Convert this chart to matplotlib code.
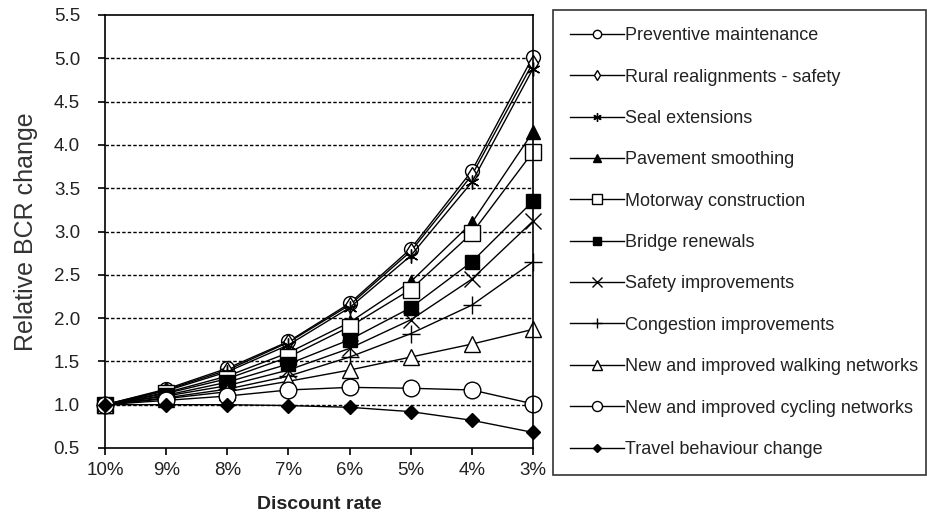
import matplotlib
matplotlib.use("Agg")
import matplotlib.pyplot as plt

plt.rcParams['font.family'] = ['Liberation Sans', 'DejaVu Sans']

rates = ["10%", "9%", "8%", "7%", "6%", "5%", "4%", "3%"]

preventive = [1.0, 1.18, 1.42, 1.73, 2.17, 2.80, 3.70, 5.02]
rural = [1.0, 1.17, 1.40, 1.72, 2.15, 2.77, 3.65, 4.95]
seal = [1.0, 1.16, 1.38, 1.69, 2.12, 2.72, 3.57, 4.88]
pavement = [1.0, 1.14, 1.33, 1.60, 1.95, 2.42, 3.10, 4.15]
motorway = [1.0, 1.13, 1.30, 1.55, 1.90, 2.33, 2.98, 3.92]
bridge = [1.0, 1.11, 1.26, 1.47, 1.75, 2.12, 2.65, 3.35]
safety = [1.0, 1.10, 1.22, 1.40, 1.65, 1.98, 2.45, 3.12]
congestion = [1.0, 1.08, 1.18, 1.33, 1.55, 1.82, 2.15, 2.65]
walking = [1.0, 1.07, 1.15, 1.27, 1.40, 1.55, 1.70, 1.87]
cycling = [1.0, 1.05, 1.10, 1.17, 1.20, 1.19, 1.17, 1.01]
travel = [1.0, 1.0, 1.0, 0.99, 0.97, 0.92, 0.82, 0.68]

labels = ["Preventive maintenance", "Rural realignments - safety", "Seal extensions",
          "Pavement smoothing", "Motorway construction", "Bridge renewals",
          "Safety improvements", "Congestion improvements",
          "New and improved walking networks", "New and improved cycling networks",
          "Travel behaviour change"]
series = [preventive, rural, seal, pavement, motorway, bridge, safety, congestion,
          walking, cycling, travel]
styles = [
    dict(marker='o', mfc='white', ms=10),
    dict(marker='d', mfc='white', ms=8),
    dict(marker=(6, 2, 0), mfc='black', ms=10),
    dict(marker='^', mfc='black', ms=10),
    dict(marker='s', mfc='white', ms=11),
    dict(marker='s', mfc='black', ms=10),
    dict(marker='x', mfc='black', ms=11),
    dict(marker='+', mfc='black', ms=13),
    dict(marker='^', mfc='white', ms=11),
    dict(marker='o', mfc='white', ms=12),
    dict(marker='D', mfc='black', ms=7),
]

fig = plt.figure(figsize=(9.28, 5.24), dpi=100)
ax = fig.add_axes([105/928, 76/524, 428/928, 433/524])

x = list(range(len(rates)))
for vals, lab, st in zip(series, labels, styles):
    ax.plot(x, vals, color='black', lw=1.0, mec='black', mew=1.0, label=lab,
            clip_on=False, **st)

ax.set_xlim(0, len(rates) - 1)
ax.set_ylim(0.5, 5.5)
ax.set_xticks(x)
ax.set_xticklabels(rates, fontsize=13.5, color='#222222')
yt = [0.5 + 0.5 * i for i in range(11)]
ax.set_yticks(yt)
ax.set_yticklabels([f"{v:.1f}" for v in yt], fontsize=13.5, color='#222222')
for v in yt[1:-1]:
    ax.axhline(v, color='black', lw=1.0, ls=(0, (2.5, 1.5)), zorder=0)
for s in ['left', 'bottom', 'right', 'top']:
    ax.spines[s].set_linewidth(1.2)
ax.tick_params(axis='both', direction='out', length=5, width=1.2, color='black')
ax.tick_params(axis='x', pad=5)
ax.tick_params(axis='y', pad=13)
ax.set_ylabel("Relative BCR change", fontsize=18, color='#333333')
ax.yaxis.set_label_coords(-0.157, 0.5)
ax.set_xlabel("Discount rate", fontsize=14, fontweight='bold', labelpad=12, color='#222222')

leg = fig.legend(loc='upper left', bbox_to_anchor=(553/928, 1 - 10/524 - 0.1, 373/928, 0.1),
                 mode='expand', frameon=True, fancybox=False, edgecolor='black',
                 fontsize=13, labelspacing=1.35, handlelength=3.0, handletextpad=0.05,
                 markerscale=0.6, borderpad=0.95, borderaxespad=0)
leg.get_frame().set_linewidth(1.2)
for t in leg.get_texts():
    t.set_color('#222222')

fig.savefig("out.png", dpi=100)
